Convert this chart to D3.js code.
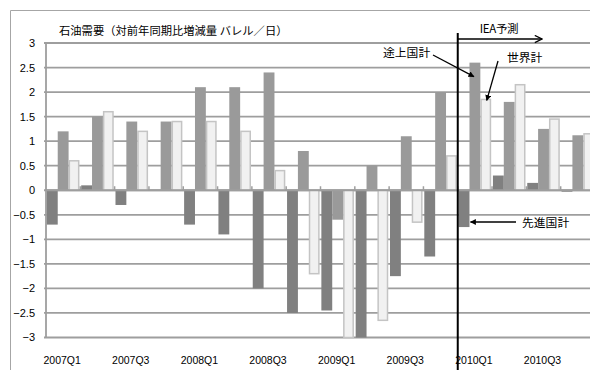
<!DOCTYPE html>
<html>
<head>
<meta charset="utf-8">
<script src="https://cdn.jsdelivr.net/npm/d3@7"></script>
<style>
  html, body { margin: 0; padding: 0; background: #fff; }
  svg { display: block; }
  text { font-family: "Liberation Sans", "Noto Sans CJK JP", sans-serif; fill: #000; }
  .jp { font-family: "Noto Sans CJK JP", sans-serif; }
</style>
</head>
<body>
<svg id="chart" width="590" height="370"></svg>
<script>
// Quarterly oil demand change vs. same quarter of previous year (mb/d)
const quarters = ["2007Q1","2007Q2","2007Q3","2007Q4","2008Q1","2008Q2","2008Q3","2008Q4",
                  "2009Q1","2009Q2","2009Q3","2009Q4","2010Q1","2010Q2","2010Q3","2010Q4"];
const advanced   = [-0.7, 0.1, -0.3, 0.0, -0.7, -0.9, -2.0, -2.5, -2.45, -3.0, -1.75, -1.35, -0.75, 0.3, 0.15, -0.03];
const developing = [1.2, 1.5, 1.4, 1.4, 2.1, 2.1, 2.4, 0.8, -0.6, 0.5, 1.1, 2.0, 2.6, 1.8, 1.25, 1.12];
const world      = [0.6, 1.6, 1.2, 1.4, 1.4, 1.2, 0.4, -1.7, -3.0, -2.65, -0.65, 0.7, 1.85, 2.15, 1.45, 1.15];
const seriesNames = ["先進国計", "途上国計", "世界計"];
const yTicks = [-3, -2.5, -2, -1.5, -1, -0.5, 0, 0.5, 1, 1.5, 2, 2.5, 3];
const xLabels = ["2007Q1","2007Q3","2008Q1","2008Q3","2009Q1","2009Q3","2010Q1","2010Q3"];
const forecastStart = "2010Q1";

const svg = d3.select("#chart");
const plotLeft = 46, plotRight = 595, plotTop = 43, plotBottom = 337.5;

const x = d3.scaleBand().domain(quarters).range([plotLeft, plotRight]).paddingInner(0).paddingOuter(0);
const inner = d3.scaleBand().domain(seriesNames).range([0, x.bandwidth()]).paddingInner(0).paddingOuter(0.08);
const y = d3.scaleLinear().domain([-3, 3]).range([plotBottom, plotTop]);

// chart frame
svg.append("path").attr("d", "M10.5,372 V10.5 H592")
  .attr("fill", "none").attr("stroke", "#a6a6a6").attr("stroke-width", 1);

// gridlines
svg.append("g").selectAll("line").data(yTicks).join("line")
  .attr("x1", plotLeft - 2).attr("x2", 592)
  .attr("y1", d => y(d)).attr("y2", d => y(d))
  .attr("stroke", "#9e9e9e").attr("stroke-width", 1.8);

// value axis line
svg.append("line").attr("x1", plotLeft).attr("x2", plotLeft).attr("y1", plotTop).attr("y2", plotBottom)
  .attr("stroke", "#9e9e9e").attr("stroke-width", 1.8);

// value axis labels
svg.append("g").selectAll("text").data(yTicks).join("text")
  .attr("x", 35).attr("y", d => y(d)).attr("dy", "0.36em")
  .attr("text-anchor", "end").attr("font-size", 11)
  .text(d => d3.format("")(d));

// bars
const rows = quarters.map((q, i) => ({ q, vals: [advanced[i], developing[i], world[i]] }));
const styles = [
  { fill: "#808080", stroke: "none" },
  { fill: "#9a9a9a", stroke: "none" },
  { fill: "#f1f1f1", stroke: "#c4c4c4" }
];
const groups = svg.append("g").selectAll("g").data(rows).join("g")
  .attr("transform", d => `translate(${x(d.q)},0)`);
groups.selectAll("rect").data(d => d.vals.map((v, k) => ({ v, k }))).join("rect")
  .attr("x", d => inner(seriesNames[d.k]) + (d.k === 2 ? 0.75 : 0))
  .attr("width", d => inner.bandwidth() - (d.k === 2 ? 1.5 : 0))
  .attr("y", d => Math.min(y(d.v), y(0)))
  .attr("height", d => Math.abs(y(d.v) - y(0)))
  .attr("fill", d => styles[d.k].fill)
  .attr("stroke", d => styles[d.k].stroke)
  .attr("stroke-width", 1.5);

// category axis at zero with small ticks
svg.append("line").attr("x1", plotLeft).attr("x2", 592).attr("y1", y(0)).attr("y2", y(0))
  .attr("stroke", "#9e9e9e").attr("stroke-width", 1.8);
svg.append("g").selectAll("line").data(quarters.slice(1)).join("line")
  .attr("x1", d => x(d)).attr("x2", d => x(d))
  .attr("y1", y(0) - 4).attr("y2", y(0))
  .attr("stroke", "#9e9e9e").attr("stroke-width", 1.5);

// category labels
svg.append("g").selectAll("text").data(xLabels).join("text")
  .attr("x", d => x(d) + x.bandwidth() / 2 - 1).attr("y", 360).attr("dy", "0.36em")
  .attr("text-anchor", "middle").attr("font-size", 10.5)
  .text(d => d);

// title
svg.append("text").attr("class", "jp").attr("x", 59).attr("y", 31).attr("dy", "0.36em")
  .attr("font-size", 11.3)
  .text("石油需要（対前年同期比増減量 バレル／日）");

// arrowheads
const defs = svg.append("defs");
defs.append("marker").attr("id", "solid").attr("viewBox", "0 0 10 10")
  .attr("refX", 9).attr("refY", 5).attr("markerWidth", 6).attr("markerHeight", 6)
  .attr("markerUnits", "userSpaceOnUse").attr("orient", "auto")
  .append("path").attr("d", "M0,0 L10,5 L0,10 Z").attr("fill", "#000");
defs.append("marker").attr("id", "open").attr("viewBox", "0 0 10 10")
  .attr("refX", 9).attr("refY", 5).attr("markerWidth", 9).attr("markerHeight", 9)
  .attr("markerUnits", "userSpaceOnUse").attr("orient", "auto")
  .append("path").attr("d", "M1,1 L9,5 L1,9").attr("fill", "none").attr("stroke", "#000").attr("stroke-width", 1.4);

// forecast divider
const xf = x(forecastStart);
svg.append("line").attr("x1", xf).attr("x2", xf).attr("y1", 33).attr("y2", 372)
  .attr("stroke", "#000").attr("stroke-width", 2);
svg.append("line").attr("x1", xf).attr("x2", 542).attr("y1", 39).attr("y2", 39)
  .attr("stroke", "#000").attr("stroke-width", 1.5).attr("marker-end", "url(#open)");
svg.append("text").attr("class", "jp").attr("x", 499).attr("y", 29).attr("dy", "0.36em")
  .attr("text-anchor", "middle").attr("font-size", 11.5).attr("letter-spacing", -0.3)
  .text("IEA予測");

// series callouts
const fi = quarters.indexOf(forecastStart);
const barCenter = (k) => xf + inner(seriesNames[k]) + inner.bandwidth() / 2;
function callout(label, tx, ty, x1, y1, x2, y2) {
  svg.append("text").attr("class", "jp").attr("x", tx).attr("y", ty).attr("dy", "0.36em")
    .attr("font-size", 11.8).text(label);
  svg.append("line").attr("x1", x1).attr("y1", y1).attr("x2", x2).attr("y2", y2)
    .attr("stroke", "#000").attr("stroke-width", 1.3).attr("marker-end", "url(#solid)");
}
callout("途上国計", 383, 53, 433, 55, barCenter(1) - 1, y(developing[fi]) + 14);
callout("世界計", 507, 58, 498, 61, barCenter(2) + 1, y(world[fi]) + 1);
callout("先進国計", 522, 223, 516, 222, xf + inner(seriesNames[0]) + inner.bandwidth() + 1, 222);
</script>
</body>
</html>
